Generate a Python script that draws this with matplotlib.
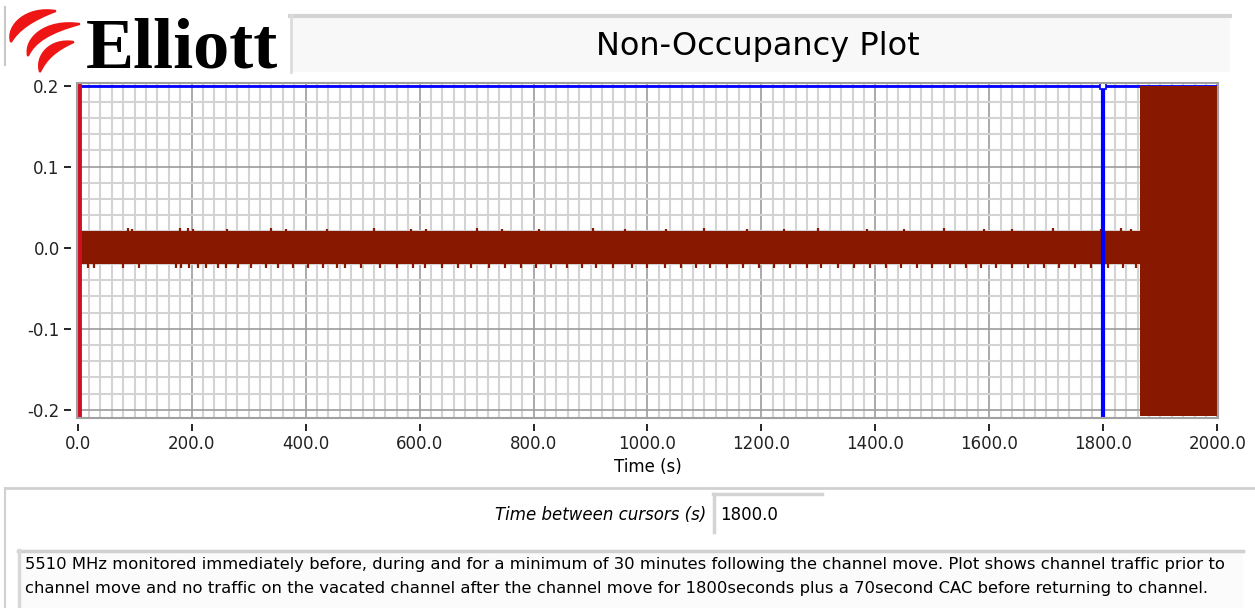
import numpy as np
import matplotlib
matplotlib.use("Agg")
import matplotlib.pyplot as plt
from matplotlib.patches import Rectangle, PathPatch
from matplotlib.path import Path

# trace data
t_start = 0.0
t_move = 1865.0
t_end = 2000.0
band_hi = 0.020
band_lo = -0.020
block_hi = 0.199
block_lo = -0.208

# little spikes on the edges of the noise band (time s, value)
top_spike_t = [89, 96, 179, 193, 202, 262, 340, 365, 438, 520, 585, 612, 700,
               745, 810, 905, 960, 1033, 1100, 1175, 1240, 1300, 1385, 1450,
               1520, 1590, 1640, 1712, 1795, 1830, 1848]
top_spike_v = [0.024, 0.023, 0.024, 0.024, 0.023, 0.023, 0.024, 0.023, 0.023,
               0.024, 0.023, 0.023, 0.024, 0.023, 0.023, 0.024, 0.023, 0.023,
               0.024, 0.023, 0.023, 0.024, 0.023, 0.023, 0.024, 0.023, 0.023,
               0.024, 0.023, 0.024, 0.023]
bot_spike_t = [19, 28, 79, 107, 172, 181, 195, 211, 225, 246, 260, 281, 304,
               330, 352, 378, 405, 431, 455, 470, 498, 530, 560, 588, 610, 640,
               668, 690, 722, 750, 778, 805, 830, 858, 885, 910, 940, 972, 1000,
               1030, 1058, 1085, 1110, 1140, 1168, 1195, 1222, 1250, 1280, 1305,
               1335, 1362, 1390, 1418, 1445, 1472, 1500, 1530, 1558, 1585, 1612,
               1640, 1668, 1695, 1722, 1750, 1778, 1808, 1835, 1858]
bot_spike_v = [-0.025] * len(bot_spike_t)

cursor1_t = 0.0
cursor2_t = 1800.0
cursor_y = 0.2

x_ticks = [0, 200, 400, 600, 800, 1000, 1200, 1400, 1600, 1800, 2000]
y_ticks = [-0.2, -0.1, 0.0, 0.1, 0.2]

title = "Non-Occupancy Plot"
cursor_label = "Time between cursors (s)"
cursor_value = "1800.0"
note_lines = [
    "5510 MHz monitored immediately before, during and for a minimum of 30 minutes following the channel move. Plot shows channel traffic prior to",
    "channel move and no traffic on the vacated channel after the channel move for 1800seconds plus a 70second CAC before returning to channel.",
]

W, H = 1255, 608
trace_col = "#881800"

fig = plt.figure(figsize=(W / 100, H / 100), dpi=100)
fig.patch.set_facecolor("white")


def fx(px):
    return px / W


def fy(py):
    return 1 - py / H


# ---- header: logo and title box
bg = fig.add_axes([0, 0, 1, 1], zorder=-5)
bg.set_xlim(0, W)
bg.set_ylim(H, 0)
bg.axis("off")

bg.plot([5, 5], [7, 65], color="#c8c8c8", lw=1.5)
# three red swooshes of the logo (outer curve, then inner curve back)
swooshes = [
    [(56, 11), (26, 6), (6, 26), (11, 42), (18, 30), (32, 20), (56, 11)],
    [(80, 24), (46, 19), (24, 38), (28, 56), (34, 42), (50, 32), (80, 24)],
    [(74, 42), (50, 38), (35, 56), (40, 72), (46, 59), (56, 50), (74, 42)],
]
for pts in swooshes:
    codes = [Path.MOVETO, Path.CURVE4, Path.CURVE4, Path.CURVE4,
             Path.CURVE4, Path.CURVE4, Path.CURVE4]
    bg.add_patch(PathPatch(Path(pts, codes), facecolor="#ee1515",
                           edgecolor="#ee1515", lw=1.5))
bg.text(86, 68, "Elliott", family=["Liberation Serif", "DejaVu Serif"],
        weight="bold", fontsize=52, color="black", ha="left", va="baseline")

bg.add_patch(Rectangle((290, 15), 940, 57, facecolor="#f8f8f8",
                       edgecolor="none"))
bg.plot([290, 1230], [16, 16], color="#d4d4d4", lw=3)
bg.plot([291, 291], [15, 72], color="#dcdcdc", lw=2)
bg.text(758, 46, title, fontsize=23, color="black", ha="center",
        va="center")

# ---- bottom panel
bg.plot([5, W], [488, 488], color="#d0d0d0", lw=2)
bg.plot([5, 5], [488, 608], color="#d0d0d0", lw=1.5)
bg.text(706, 515, cursor_label, style="italic", fontsize=12, ha="right",
        va="center", color="black")
bg.plot([713, 822], [494, 494], color="#d4d4d4", lw=2.5)
bg.plot([714, 714], [494, 532], color="#d4d4d4", lw=2.5)
bg.text(720, 515, cursor_value, fontsize=12, ha="left", va="center")

bg.add_patch(Rectangle((18, 550), 1225, 58, facecolor="#fbfbfb",
                       edgecolor="none"))
bg.plot([18, 1243], [551, 551], color="#d0d0d0", lw=2.5)
bg.plot([19, 19], [550, 608], color="#d8d8d8", lw=2.5)
for i, line in enumerate(note_lines):
    bg.text(25, 564 + i * 25, line, fontsize=11.8, ha="left", va="center")

# ---- plot area
ax = fig.add_axes([fx(77), fy(418), fx(1218) - fx(77), fy(83) - fy(418)])
ax.set_xlim(-1, 2001)
ax.set_ylim(-0.21, 0.2031)

ax.set_xticks(np.arange(0, 2001, 20), minor=True)
ax.set_yticks(np.arange(-0.2, 0.2001, 0.02), minor=True)
ax.set_xticks(x_ticks)
ax.set_yticks(y_ticks)
ax.set_xticklabels([f"{v:.1f}" for v in x_ticks])
ax.set_yticklabels([f"{v:.1f}" for v in y_ticks])
ax.grid(which="minor", color="#d3d3d3", lw=1.5)
ax.grid(which="major", color="#9c9c9c", lw=1.2)
ax.set_axisbelow(True)
ax.tick_params(which="minor", length=0)
ax.tick_params(which="major", direction="out", length=5, width=1.2,
               labelsize=12, colors="black", labelcolor="#222222")
for s in ["left", "bottom"]:
    ax.spines[s].set_position(("outward", 4))
for s in ax.spines.values():
    s.set_visible(False)
ax.add_patch(Rectangle((0, 0), 1, 1, transform=ax.transAxes, fill=False,
                       edgecolor="#a0a0a0", lw=1.5, zorder=10, clip_on=False))

ax.axhline(cursor_y, color="#0000ff", lw=2, zorder=3)

ax.fill_between([t_start, t_move], band_lo, band_hi, color=trace_col,
                lw=0, zorder=4)
ax.vlines(top_spike_t, band_hi - 0.001, top_spike_v, color=trace_col, lw=1.6,
          zorder=4)
ax.vlines(bot_spike_t, bot_spike_v, band_lo + 0.001, color=trace_col, lw=1.6,
          zorder=4)
ax.fill_between([t_move, t_end], block_lo, block_hi, color=trace_col, lw=0,
                zorder=4)

ax.axvline(cursor1_t + 2, color="#d01020", lw=3.5, zorder=5)
ax.axvline(cursor2_t, color="#0000ff", lw=3, zorder=5)
ax.plot([cursor2_t], [cursor_y], marker="s", ms=5, mfc="white", mec="#0000ff",
        mew=1.2, zorder=6, clip_on=False)

ax.set_xlabel("Time (s)", fontsize=12, labelpad=3)

fig.savefig("out.png", dpi=100, facecolor="white")
